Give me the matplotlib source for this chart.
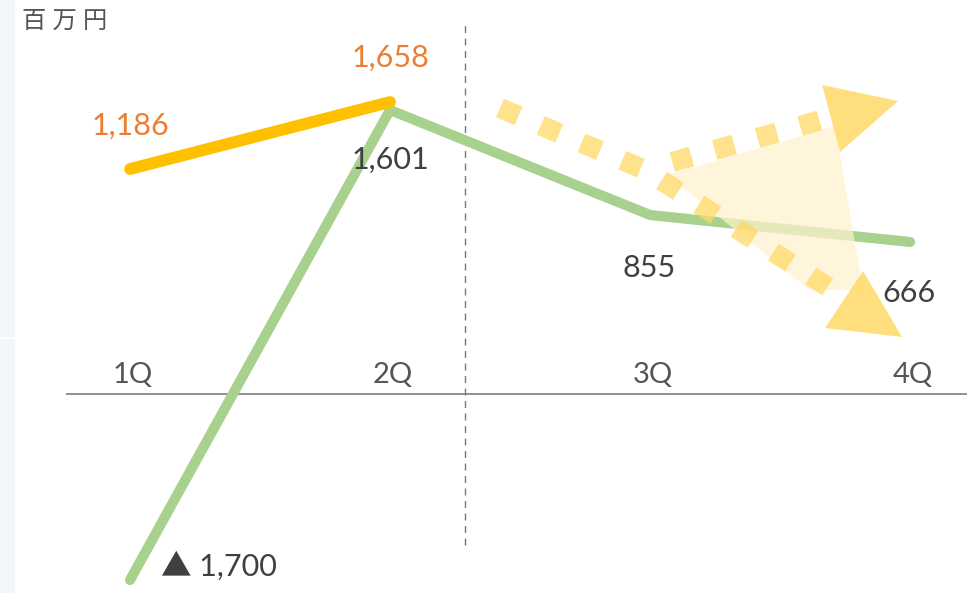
import numpy as np
import matplotlib
matplotlib.use("Agg")
import matplotlib.pyplot as plt
from matplotlib.patches import Polygon, Rectangle

plt.rcParams['font.family'] = ['Lato', 'Noto Sans CJK JP', 'DejaVu Sans']

# Data (heights as drawn on the chart, labels are the real values)
quarters = ['1Q', '2Q', '3Q', '4Q']
orange_h = [225, 292]
orange_labels = ['1,186', '1,658']
green_h = [-186, 284, 179, 152]
green_labels = ['▲ 1,700', '1,601', '855', '666']

ORANGE = '#FFC000'
ORANGE_TXT = '#ED7D31'
GREEN = '#A9D18E'
TXT = '#404040'
ARROW = '#FFD966'

fig = plt.figure(figsize=(9.67, 5.93), dpi=100)
ax = fig.add_axes([0, 0, 1, 1])
ax.set_xlim(-0.5, 3.219)
ax.set_ylim(-199, 394)
ax.axis('off')

# light strip on the left edge
fig.patches.append(Rectangle((0, 0), 14 / 967, 1, transform=fig.transFigure,
                             color='#F2F7FC', zorder=0))
fig.lines.append(plt.Line2D([0, 14 / 967], [1 - 338 / 593] * 2, transform=fig.transFigure,
                            color='white', lw=1.2))

fig.text(22 / 967, 1 - 21 / 593, '百 万 円', fontsize=17.5, color='#555555', va='center')

x = np.arange(len(quarters))

# zero line and divider
ax.hlines(0, -0.246, 3.22, color='#888888', lw=1.3, zorder=1)
ax.vlines(1.288, -151, 374, color='#777777', lw=1, linestyles=(0, (5, 4)), zorder=1)

for i, q in enumerate(quarters):
    ax.text(x[i] + 0.01, 19, q, ha='center', va='center', fontsize=21, color='#555555')

# series
ax.plot(x[:2], orange_h, color=ORANGE, lw=8.5, solid_capstyle='round', zorder=4)
ax.plot(x, green_h, color=GREEN, lw=7.3, solid_capstyle='round', solid_joinstyle='miter', zorder=3)

orange_off = [(0, 31), (0, 32)]
for i, (lab, off) in enumerate(zip(orange_labels, orange_off)):
    ax.annotate(lab, (x[i], orange_h[i]), xytext=off, textcoords='offset points',
                ha='center', va='center', fontsize=22, color=ORANGE_TXT)

green_off = [(22, 10), (0, -36), (-1, -38), (-1, -37)]
for i, (lab, off) in enumerate(zip(green_labels, green_off)):
    ax.annotate(lab, (x[i], green_h[i]), xytext=off, textcoords='offset points',
                ha='left' if i == 0 else 'center', va='center', fontsize=22, color=TXT)

# decorative trend arrows
ax.add_patch(Polygon([(2.065, 219), (2.712, 268), (2.819, 104), (2.615, 104)],
                     closed=True, color='#FFF2CC', alpha=0.7, lw=0, zorder=5))

down_path = ([1.423, 1.981, 2.75], [286, 224, 96])
up_path = ([2.085, 2.70], [232, 277])
for px_, py_ in (down_path, up_path):
    ax.plot(px_, py_, color=ARROW, alpha=0.75, lw=14.5, dashes=(1, 1.2),
            solid_capstyle='butt', dash_capstyle='butt', zorder=6)

ax.add_patch(Polygon([(2.819, 123), (2.673, 66), (2.969, 57)], closed=True,
                     color=ARROW, alpha=0.85, lw=0, zorder=6))
ax.add_patch(Polygon([(2.662, 309), (2.731, 242), (2.954, 293)], closed=True,
                     color=ARROW, alpha=0.85, lw=0, zorder=6))

fig.savefig('out.png', dpi=100)
